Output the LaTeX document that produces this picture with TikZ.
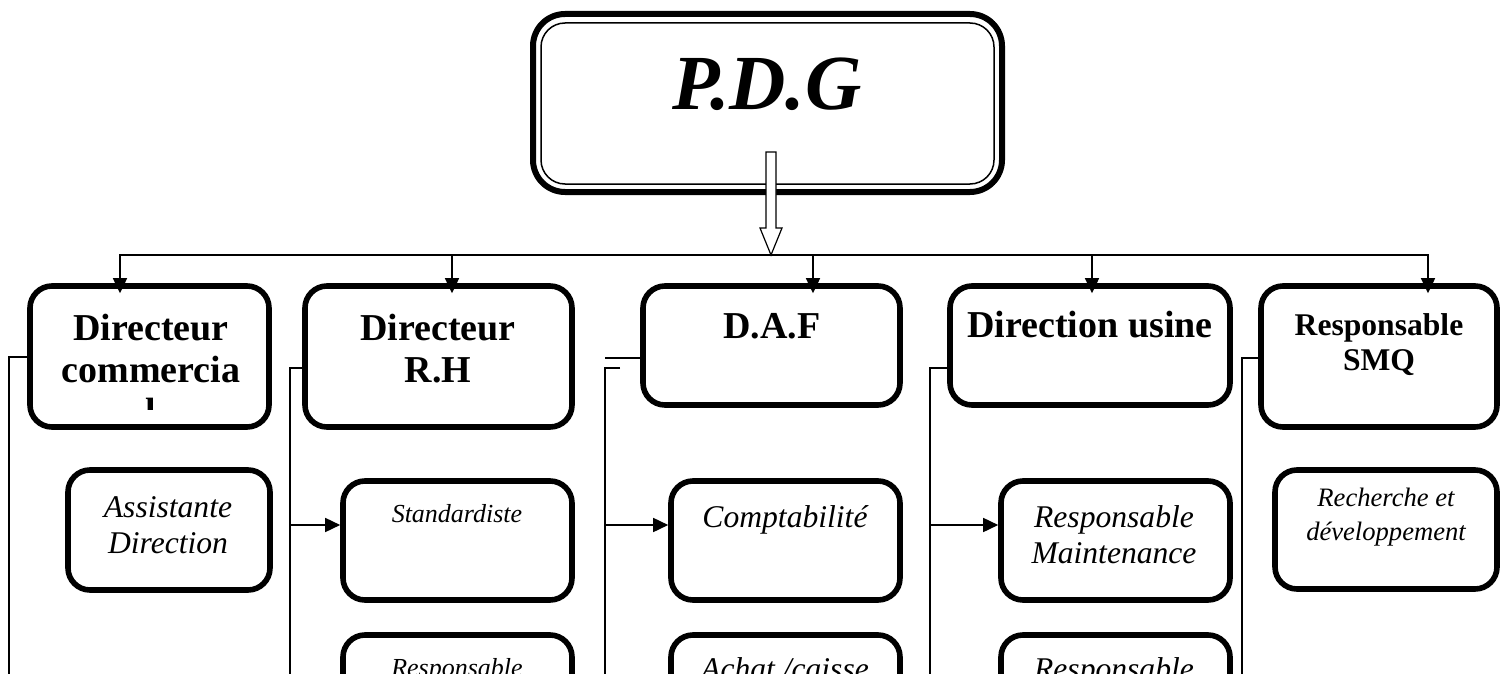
\documentclass[tikz,border=0pt]{standalone}
\usepackage{fontspec}
\setmainfont{Liberation Serif}
\usetikzlibrary{arrows.meta,fit}
\begin{document}
\begin{tikzpicture}[x=0.5pt,y=-0.5pt,
  box/.style={draw, line width=2.8pt, rounded corners=11pt, inner sep=0pt},
  lbl/.style={anchor=base, inner sep=0pt},
  conn/.style={line width=0.8pt},
  tri/.style={conn, -{Triangle[length=7.5pt,width=7pt]}},
  topfont/.style={font=\fontsize{19}{21}\selectfont\bfseries},
  subfont/.style={font=\fontsize{15.8}{18}\selectfont\itshape},
  smallfont/.style={font=\fontsize{13}{17}\selectfont\itshape},
]
\useasboundingbox (0,0) rectangle (1510,674);
\clip (0,0) rectangle (1510,674);

% PDG
\node[draw, line width=3pt, rounded corners=16pt, inner sep=0pt, fit={(533,14)(1002,192)}] (pdg) {};
\draw[line width=0.75pt, rounded corners=12pt] (541,23) rectangle (994,184);
\node[lbl, font=\fontsize{39}{42}\selectfont\bfseries\itshape] (pdgt) at (767,110) {P.D.G};

% level 1 boxes
\node[box, fit={(30,286)(269,427)}] (dc) {};
\node[box, fit={(305,286)(572,427)}] (drh) {};
\node[box, fit={(643,286)(900,405)}] (daf) {};
\node[box, fit={(950,286)(1230,405)}] (du) {};
\node[box, fit={(1261,286)(1497,427)}] (smq) {};

\begin{scope}
\clip (30,286) rectangle (269,409);
\node[lbl, topfont] (dct) at (151,340) {\begin{tabular}[t]{@{}c@{}}Directeur\\commercia\\l\end{tabular}};
\end{scope}
\node[lbl, topfont] (drht) at (438,340) {\begin{tabular}[t]{@{}c@{}}Directeur\\R.H\end{tabular}};
\node[lbl, topfont] (daft) at (772,338) {D.A.F};
\node[lbl, topfont] (dut) at (1090,337) {Direction usine};
\node[lbl, font=\fontsize{15.8}{17.5}\selectfont\bfseries] (smqt) at (1379,335) {\begin{tabular}[t]{@{}c@{}}Responsable\\SMQ\end{tabular}};

% level 2 boxes
\node[box, fit={(68,470)(270,590)}] (asst) {};
\node[box, fit={(343,481)(572,600)}] (std) {};
\node[box, fit={(671,481)(900,600)}] (compta) {};
\node[box, fit={(1001,481)(1230,600)}] (maint) {};
\node[box, fit={(1275,470)(1497,589)}] (rd) {};

\node[lbl, subfont] (asstt) at (168,517) {\begin{tabular}[t]{@{}c@{}}Assistante\\Direction\end{tabular}};
\node[lbl, smallfont] (stdt) at (457,522) {Standardiste};
\node[lbl, subfont] (comptat) at (785,527) {Comptabilité};
\node[lbl, subfont] (maintt) at (1114,527) {\begin{tabular}[t]{@{}c@{}}Responsable\\Maintenance\end{tabular}};
\node[lbl, font=\fontsize{13.3}{17}\selectfont\itshape] (rdt) at (1386,506) {\begin{tabular}[t]{@{}c@{}}Recherche et\\développement\end{tabular}};

% level 3 boxes (cut by the page edge, as in the reference)
\node[box, fit={(343,635)(572,760)}] (resp1) {};
\node[box, fit={(671,635)(900,760)}] (achat) {};
\node[box, fit={(1001,635)(1230,760)}] (resp2) {};
\node[lbl, smallfont] (resp1t) at (457,676) {Responsable};
\node[lbl, subfont] (achatt) at (785,679) {Achat /caisse};
\node[lbl, subfont] (resp2t) at (1114,679) {Responsable};

% bus and drops
\coordinate (bus) at (771,255);
\coordinate (x1) at (120,255);
\coordinate (x2) at (452,255);
\coordinate (x3) at (813,255);
\coordinate (x4) at (1092,255);
\coordinate (x5) at (1428,255);
\draw[tri, shorten >=-5pt] (bus) -| (x1 |- dc.north);
\draw[tri, shorten >=-5pt] (bus) -| (x2 |- drh.north);
\draw[tri, shorten >=-5pt] (bus) -| (x3 |- daf.north);
\draw[tri, shorten >=-5pt] (bus) -| (x4 |- du.north);
\draw[tri, shorten >=-5pt] (bus) -| (x5 |- smq.north);

% hollow arrow from PDG
\draw[line width=0.6pt, fill=white] (bus) -- ++(-11,-27) -- ++(6,0) -- ++(0,-76) -- ++(10,0) -- ++(0,76) -- ++(6,0) -- cycle;

% left trunks
\coordinate (t1) at (9,357);   \coordinate (b1) at (9,700);
\draw[conn] (dc.west |- t1) -- (t1) -- (b1);

\coordinate (t2) at (290,368); \coordinate (b2) at (290,700); \coordinate (a2) at (290,525);
\draw[conn] (drh.west |- t2) -- (t2) -- (b2);
\draw[tri] (a2) -- (a2 -| std.west);

\coordinate (t3a) at (605,358);
\coordinate (t3s) at (620,368); \coordinate (t3) at (605,368); \coordinate (b3) at (605,700); \coordinate (a3) at (605,525);
\draw[conn] (daf.west |- t3a) -- (t3a);
\draw[conn] (t3s) -- (t3) -- (b3);
\draw[tri] (a3) -- (a3 -| compta.west);

\coordinate (t4) at (930,368); \coordinate (b4) at (930,700); \coordinate (a4) at (930,525);
\draw[conn] (du.west |- t4) -- (t4) -- (b4);
\draw[tri] (a4) -- (a4 -| maint.west);

\coordinate (t5) at (1242,358); \coordinate (b5) at (1242,700);
\draw[conn] (smq.west |- t5) -- (t5) -- (b5);
\end{tikzpicture}
\end{document}
